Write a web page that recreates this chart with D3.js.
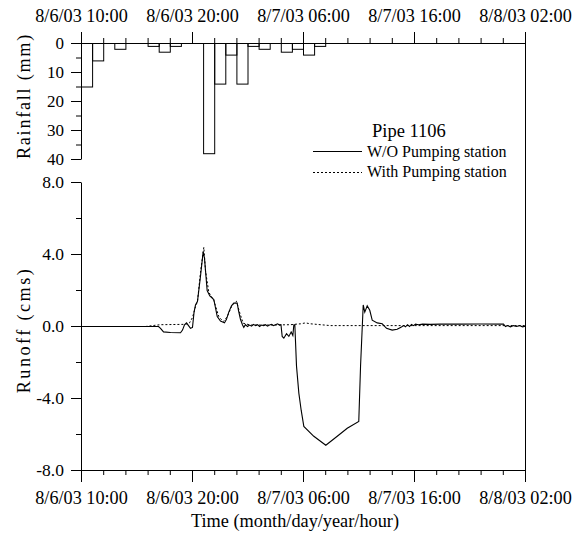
<!DOCTYPE html>
<html>
<head>
<meta charset="utf-8">
<script src="https://cdn.jsdelivr.net/npm/d3@7"></script>
<style>
  body { margin: 0; background: #fff; }
  svg { display: block; }
</style>
</head>
<body>
<svg id="chart" width="573" height="537"></svg>
<script>
const FONT = "'Liberation Serif', 'Times New Roman', Times, serif";

// time axis: hours after 8/6/03 10:00
const timeTickHours = [0, 10, 20, 30, 40];
const timeTickLabels = ["8/6/03 10:00", "8/6/03 20:00", "8/7/03 06:00", "8/7/03 16:00", "8/8/03 02:00"];
const timeMinorHours = [2, 4, 6, 8, 12, 14, 16, 18, 22, 24, 26, 28, 32, 34, 36, 38];

// hourly rainfall (mm), bar starts at the given hour
const rainHour = [0, 1, 2, 3, 4, 5, 6, 7, 8, 9, 10, 11, 12, 13, 14, 15, 16, 17, 18, 19, 20, 21];
const rainfall = [15, 6, 0, 2, 0, 0, 1, 3, 1, 0, 0, 38, 14, 4, 14, 1, 2, 0, 3, 2, 4, 1];

const rainTicks = [0, 10, 20, 30, 40];
const rainMinor = [5, 15, 25, 35];
const runoffTicks = [-8, -4, 0, 4, 8];
const runoffMinor = [-6, -2, 2, 6];

// Pipe 1106 runoff (cms), without pumping station
const woHour = [0, 6.94, 7.12, 7.39, 8.02, 8.92, 9.10, 9.28, 9.46, 9.64, 9.82, 10.00, 10.14, 10.27, 10.45,
  10.72, 10.96, 11.08, 11.32, 11.56, 11.92, 12.23, 12.52, 12.88, 13.06, 13.27, 13.51, 13.72, 14.03, 14.14,
  14.32, 14.50, 14.62, 14.77, 14.95, 15.14, 15.32, 15.50, 15.68, 15.86, 16.04, 16.22, 16.40, 16.58, 16.76,
  16.94, 17.12, 17.30, 17.48, 17.66, 17.84, 17.97, 18.08, 18.23, 18.47, 18.68, 18.89, 19.04, 19.13, 19.22,
  19.37, 19.58, 19.79, 20.03, 20.93, 22.01, 23.04, 23.94, 24.98, 25.14, 25.38, 25.52, 25.74, 25.97, 26.19,
  26.64, 27.09, 27.48, 27.99, 28.44, 28.74, 29.04, 29.19, 29.37, 29.55, 29.73, 29.91, 30.09, 30.36, 30.72,
  31.44, 32.34, 34.14, 35.95, 38.02, 38.20, 38.38, 38.65, 38.92, 39.19, 39.46, 39.73, 40];
const woFlow = [0, 0, -0.1, -0.3, -0.33, -0.35, -0.2, 0.1, 0.2, 0.05, -0.1, -0.05, 0.8, 1.2, 1.4,
  2.8, 4.15, 3.8, 2.0, 1.7, 1.5, 0.55, 0.3, 0.2, 0.4, 0.8, 1.15, 1.3, 1.3, 0.9,
  0.4, 0.1, -0.05, 0.1, 0.0, 0.08, 0.02, 0.12, 0.05, 0.1, 0.0, 0.08, 0.05, 0.1, 0.02,
  0.08, 0.12, 0.05, 0.1, 0.15, 0.08, 0.1, -0.55, -0.65, -0.4, -0.55, -0.3, -0.5, 0.1, 0.1,
  -2.2, -3.7, -4.65, -5.55, -6.1, -6.6, -6.1, -5.65, -5.27, -2.2, 1.2, 0.8, 1.15, 0.9, 0.35,
  0.2, 0.15, -0.1, -0.2, -0.15, -0.05, 0.05, -0.02, 0.1, 0.0, 0.12, 0.05, 0.13, 0.1, 0.13,
  0.12, 0.13, 0.13, 0.14, 0.13, 0.0, 0.05, -0.02, 0.05, 0.0, 0.05, -0.02, 0.02];

// Pipe 1106 runoff (cms), with pumping station
const withHour = [0, 5.77, 6.40, 7.12, 9.37, 9.73, 10.0, 10.27, 10.45, 10.72, 11.02, 11.17, 11.47, 11.92,
  12.37, 12.77, 13.13, 13.58, 13.96, 14.26, 14.57, 15.23, 17.03, 18.83, 19.73, 20.18, 20.63, 22.43, 28.74, 40];
const withFlow = [0, 0, 0.05, 0.1, 0.12, 0.2, 0.5, 1.1, 1.4, 3.0, 4.4, 3.1, 1.9, 1.45,
  0.55, 0.27, 0.55, 1.2, 1.4, 0.75, 0.18, 0.08, 0.08, 0.1, 0.15, 0.2, 0.15, 0.05, 0.05, 0.05];

const svg = d3.select("#chart");

const x = d3.scaleLinear().domain([0, 40]).range([81, 525]);
const yRain = d3.scaleLinear().domain([0, 40]).range([43, 159]);
const yRun = d3.scaleLinear().domain([-8, 8]).range([470, 182]);

// axes
function addAxis(axis, tx, ty, size) {
  const g = svg.append("g")
    .attr("transform", `translate(${tx},${ty})`)
    .call(axis)
    .attr("font-family", FONT)
    .attr("font-size", size || 18.2);
  g.selectAll("text").attr("fill", "#000");
  return g;
}

addAxis(d3.axisTop(x).tickValues(timeTickHours).tickSize(11).tickSizeOuter(0).tickPadding(10)
  .tickFormat((d, i) => timeTickLabels[i]), 0, yRain(0));
addAxis(d3.axisTop(x).tickValues(timeMinorHours).tickSize(5).tickFormat(""), 0, yRain(0))
  .select(".domain").remove();

addAxis(d3.axisBottom(x).tickValues(timeTickHours).tickSize(12).tickSizeOuter(0).tickPadding(9.5)
  .tickFormat((d, i) => timeTickLabels[i]), 0, yRun(-8));
addAxis(d3.axisBottom(x).tickValues(timeMinorHours).tickSize(5).tickFormat(""), 0, yRun(-8))
  .select(".domain").remove();

addAxis(d3.axisLeft(yRain).tickValues(rainTicks).tickSize(10).tickSizeOuter(0).tickPadding(7), x(0), 0, 17);
addAxis(d3.axisLeft(yRain).tickValues(rainMinor).tickSize(5).tickFormat(""), x(0), 0)
  .select(".domain").remove();

addAxis(d3.axisLeft(yRun).tickValues(runoffTicks).tickSize(10).tickSizeOuter(0).tickPadding(7)
  .tickFormat(d => d.toFixed(1)), x(0), 0, 17.5);
addAxis(d3.axisLeft(yRun).tickValues(runoffMinor).tickSize(5).tickFormat(""), x(0), 0)
  .select(".domain").remove();

// right frame
svg.append("line")
  .attr("x1", x(40) + 0.5).attr("x2", x(40) + 0.5)
  .attr("y1", yRain(0)).attr("y2", yRun(-8) + 0.5)
  .attr("stroke", "#000");

const plot = svg.append("g").attr("transform", "translate(0.5,0.5)");

// rainfall bars hanging from the top axis
plot.selectAll(".bar")
  .data(rainHour.map((h, i) => ({ h, v: rainfall[i] })).filter(d => d.v > 0))
  .enter()
  .append("rect")
  .attr("class", "bar")
  .attr("x", d => x(d.h))
  .attr("width", d => x(d.h + 1) - x(d.h))
  .attr("y", yRain(0))
  .attr("height", d => yRain(d.v) - yRain(0))
  .attr("fill", "none")
  .attr("stroke", "#000")
  .attr("stroke-width", 1);

const line = d3.line().x(d => x(d.t)).y(d => yRun(d.v));

plot.append("path")
  .datum(withHour.map((t, i) => ({ t, v: withFlow[i] })))
  .attr("d", line)
  .attr("fill", "none")
  .attr("stroke", "#000")
  .attr("stroke-width", 1)
  .attr("stroke-dasharray", "2,2");

plot.append("path")
  .datum(woHour.map((t, i) => ({ t, v: woFlow[i] })))
  .attr("d", line)
  .attr("fill", "none")
  .attr("stroke", "#000")
  .attr("stroke-width", 1.1);

// axis titles
const titles = svg.append("g")
  .attr("font-family", FONT)
  .attr("font-size", 18.3)
  .attr("fill", "#000");

titles.append("text")
  .attr("transform", `translate(24,${(yRain(0) + yRain(40)) / 2 - 5}) rotate(-90)`)
  .attr("text-anchor", "middle")
  .attr("dy", "0.35em")
  .attr("letter-spacing", 1.7)
  .text("Rainfall (mm)");

titles.append("text")
  .attr("transform", `translate(24,${(yRun(8) + yRun(-8)) / 2 + 4}) rotate(-90)`)
  .attr("text-anchor", "middle")
  .attr("dy", "0.35em")
  .attr("letter-spacing", 2.4)
  .text("Runoff (cms)");

titles.append("text")
  .attr("x", 295)
  .attr("y", 527)
  .attr("text-anchor", "middle")
  .text("Time (month/day/year/hour)");

// legend
const legend = svg.append("g")
  .attr("font-family", FONT)
  .attr("font-size", 16)
  .attr("fill", "#000");

legend.append("text")
  .attr("x", 372).attr("y", 137)
  .attr("font-size", 18.5)
  .text("Pipe 1106");

legend.append("line")
  .attr("x1", 313).attr("x2", 362).attr("y1", 151.5).attr("y2", 151.5)
  .attr("stroke", "#000");
legend.append("text")
  .attr("x", 367).attr("y", 156.5)
  .text("W/O Pumping station");

legend.append("line")
  .attr("x1", 313).attr("x2", 362).attr("y1", 172.5).attr("y2", 172.5)
  .attr("stroke", "#000")
  .attr("stroke-dasharray", "2,2");
legend.append("text")
  .attr("x", 367).attr("y", 177)
  .text("With Pumping station");
</script>
</body>
</html>
